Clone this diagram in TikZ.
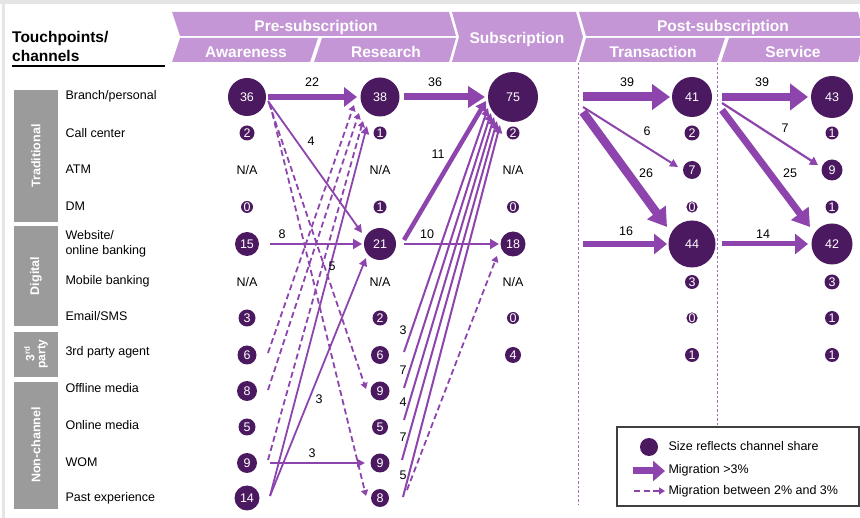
\documentclass[tikz,border=0pt]{standalone}
\usepackage{fontspec}
\setmainfont{Liberation Sans}
\usetikzlibrary{arrows.meta,calc}

\definecolor{circ}{HTML}{4B195F}
\definecolor{migc}{HTML}{8E44AD}
\definecolor{hdr}{HTML}{C496D6}
\definecolor{grpgray}{HTML}{9B9B9B}

\newcommand\numfont{\fontsize{12.5}{15}\selectfont}
\newcommand\hdrfont{\fontsize{15.5}{19}\selectfont\bfseries}

% one column of share circles: name, x, list of value/diameter (diameter 0 = N/A)
\newcommand\sharecol[3]{%
  \foreach \v/\d [count=\i] in {#3}{%
    \pgfmathsetmacro\rowy{{97,133,170,207,244,282,318,355,391,427,463,498}[\i-1]}%
    \ifnum\d=0
      \node[na] (#1\i) at (#2,\rowy) {N/A};%
    \else
      \node[share=\d] (#1\i) at (#2,\rowy) {\v};%
    \fi}}

\tikzset{
  share/.style={circle, fill=circ, text=white, inner sep=0pt, minimum size=#1pt, font=\numfont},
  na/.style={font=\numfont},
  rowlab/.style={anchor=west, font=\numfont, align=left},
  lab/.style={font=\numfont},
  grp/.style={fill=grpgray},
  grplab/.style={text=white, font=\fontsize{12.5}{13}\selectfont\bfseries, rotate=90, align=center},
  hdrtxt/.style={text=white, font=\hdrfont},
  mig/.style n args={3}{draw=migc, line width=#1pt, -{Triangle[length=#2pt,width=#3pt]}},
  migdash/.style={draw=migc, line width=1.8pt, dash pattern=on 6pt off 3.5pt, -{Triangle[length=6pt,width=7pt]}},
  stage/.style={draw=migc!80, line width=0.8pt, dash pattern=on 2.5pt off 2pt},
}

\begin{document}
\begin{tikzpicture}[x=1pt, y=-1pt]
    \useasboundingbox (0,0) rectangle (860,518);

    % frame
    \fill[black!10] (0,0) rectangle (860,4);
    \fill[black!10] (2,4) rectangle (4.5,518);

    % header bands
    \fill[hdr] (172,12) -- (449,12) -- (456,36) -- (180,36) -- cycle;
    \fill[hdr] (180,38) -- (318,38) -- (310,62) -- (172,62) -- cycle;
    \fill[hdr] (322,38) -- (456,38) -- (449,62) -- (314,62) -- cycle;
    \fill[hdr] (452,12) -- (576,12) -- (583,37) -- (576,62) -- (452,62) -- (459,37) -- cycle;
    \fill[hdr] (579,12) -- (858,12) -- (864,36) -- (586,36) -- cycle;
    \fill[hdr] (586,38) -- (725,38) -- (717,62) -- (579,62) -- cycle;
    \fill[hdr] (729,38) -- (864,38) -- (858,62) -- (721,62) -- cycle;
    \node[hdrtxt] (hpre) at (316,27) {Pre-subscription};
    \node[hdrtxt] (haw) at (246,52) {Awareness};
    \node[hdrtxt] (hre) at (386,52) {Research};
    \node[hdrtxt] (hsub) at (517,39) {Subscription};
    \node[hdrtxt] (hpost) at (723,27) {Post-subscription};
    \node[hdrtxt] (htr) at (653,52) {Transaction};
    \node[hdrtxt] (hse) at (793,52) {Service};

    \node[font=\hdrfont, align=left, anchor=west, inner sep=0pt] (htp) at (12,46) {Touchpoints/\\channels};
    \draw[line width=1.3pt] (12,66) -- (165,66);

    % channel groups
    \fill[grp] (14,90) rectangle (58,222);
    \fill[grp] (14,226) rectangle (58,326);
    \fill[grp] (14,332) rectangle (58,377);
    \fill[grp] (14,382) rectangle (58,509);
    \node[grplab] (gtrad) at (36,156) {Traditional};
    \node[grplab] (gdig) at (36,276) {Digital};
    \node[grplab, font=\fontsize{12}{11}\selectfont\bfseries] (g3rd) at (36,354) {3\textsuperscript{rd}\\party};
    \node[grplab] (gnon) at (36,445) {Non-channel};

    % channel names
    \foreach \t [count=\i] in {{Branch/personal},{Call center},{ATM},{DM},{Website/\\online banking},{Mobile banking},{Email/SMS},{3rd party agent},{Offline media},{Online media},{WOM},{Past experience}}{
        \pgfmathsetmacro\laby{{96,133,169,206,244,281,316,352,388,425,462,498}[\i-1]}
        \node[rowlab] (ch\i) at (62,\laby) {\t};
    }

    % stage separators
    \draw[stage] (578,63) -- (578,505);
    \draw[stage] (717,63) -- (717,427);

    % share circles
    \sharecol{a}{247}{36/38,2/15,-/0,0/12,15/24,-/0,3/17,6/19,8/20,5/17,9/20,14/25}
    \sharecol{r}{380}{38/39,1/13,-/0,1/13,21/32,-/0,2/15,6/18,9/19,5/16,9/19,8/18}
    \sharecol{s}{513}{75/50,2/13,-/0,0/12,18/25,-/0,0/12,4/16}
    \sharecol{t}{692}{41/40,2/15,7/18,0/11,44/47,3/14,0/11,1/14}
    \sharecol{v}{832}{43/42,1/13,9/21,1/13,42/41,3/15,1/14,1/14}

    % awareness -> research
    \draw[mig={6}{13}{19}] ($(a1)+(21,0)$) -- ($(r1)+(-23,0)$);
    \draw[mig={1.8}{8}{8}] ($(a1)+(21,4)$) -- ($(r5)+(-18,-11)$);
    \draw[mig={2.5}{9}{10}] ($(a5)+(23,0)$) -- ($(r5)+(-18,0)$);
    \draw[migdash] ($(a1)+(22,6)$) -- ($(r9)+(-14,-2)$);
    \draw[migdash] ($(a1)+(23,7)$) -- ($(r12)+(-14,-2)$);
    \draw[migdash] ($(a8)+(21,-2)$) -- ($(r1)+(-26,8)$);
    \draw[migdash] ($(a9)+(21,-1)$) -- ($(r1)+(-21,16)$);
    \draw[migdash] ($(a11)+(21,-3)$) -- ($(r1)+(-17,24)$);
    \draw[mig={1.8}{8}{8}] ($(a12)+(23,-2)$) -- ($(r1)+(-13,29)$);
    \draw[mig={1.8}{8}{8}] ($(a12)+(23,-2)$) -- ($(r5)+(-14,14)$);
    \draw[mig={1.8}{8}{8}] ($(a11)+(23,0)$) -- ($(r11)+(-15,0)$);

    % research -> subscription
    \draw[mig={7}{17}{21}] ($(r1)+(24,0)$) -- ($(s1)+(-28,0)$);
    \draw[mig={4.5}{10}{12}] ($(r5)+(24,-4)$) -- ($(s1)+(-27,4)$);
    \draw[mig={2.8}{9}{10}] ($(r5)+(24,0)$) -- ($(s5)+(-14,0)$);
    \draw[mig={2}{8}{8}] ($(r8)+(24,-3)$) -- ($(s1)+(-25,11)$);
    \draw[mig={2}{8}{8}] ($(r9)+(24,-3)$) -- ($(s1)+(-22,16)$);
    \draw[mig={2}{8}{8}] ($(r10)+(24,-7)$) -- ($(s1)+(-19,20)$);
    \draw[mig={2}{8}{8}] ($(r11)+(22,-3)$) -- ($(s1)+(-16,24)$);
    \draw[mig={2}{8}{8}] ($(r12)+(23,-1)$) -- ($(s1)+(-13,28)$);
    \draw[migdash] ($(r12)+(27,-8)$) -- ($(s5)+(-16,12)$);

    % subscription -> transaction
    \coordinate (tin1) at (583,97);
    \coordinate (tin2) at (583,107);
    \coordinate (tin3) at (583,112);
    \coordinate (tin5) at (583,244);
    \draw[mig={9}{18}{25}] (tin1) -- ($(t1)+(-22,0)$);
    \draw[mig={2}{8}{8}] (tin2) -- ($(t3)+(-14,-3)$);
    \draw[mig={8.5}{18}{22}] (tin3) -- ($(t5)+(-25,-17)$);
    \draw[mig={6.5}{13}{20}] (tin5) -- ($(t5)+(-25,0)$);

    % transaction -> service
    \coordinate (vin1) at (722,97);
    \coordinate (vin2) at (722,103);
    \coordinate (vin3) at (722,110);
    \coordinate (vin5) at (722,244);
    \draw[mig={8.5}{18}{26}] (vin1) -- ($(v1)+(-24,0)$);
    \draw[mig={2.2}{8}{9}] (vin2) -- ($(v3)+(-14,-5)$);
    \draw[mig={7}{17}{21}] (vin3) -- ($(v5)+(-22,-17)$);
    \draw[mig={5}{13}{20}] (vin5) -- ($(v5)+(-24,0)$);

    % migration values
    \foreach \t/\x/\y in {22/312/82, 4/311/141, 8/282/234, 5/332/266, 3/319/399, 3/312/453,
        36/435/82, 11/438/154, 10/427/234, 3/403/330, 7/403/370, 4/403/402, 7/403/437, 5/403/475,
        39/627/82, 6/647/131, 26/646/173, 16/626/231, 39/762/82, 7/785/128, 25/790/173, 14/763/234}
        \node[lab] at (\x,\y) {\t};

    % legend
    \draw[line width=1.2pt, black!75] (617,427) rectangle (859,506);
    \node[share=18] (lgc) at (649,447) {};
    \node[lab, anchor=west] (lgt1) at (665,446) {Size reflects channel share};
    \node[lab, anchor=west] (lgt2) at (665,470) {Migration >3\%};
    \node[lab, anchor=west] (lgt3) at (665,491) {Migration between 2\% and 3\%};
    \coordinate (lga2) at (633,471);
    \coordinate (lga3) at (634,491);
    \draw[mig={7}{12}{20}] (lga2) -- (lgt2.west |- lga2);
    \draw[migdash] (lga3) -- (lgt3.west |- lga3);

\end{tikzpicture}
\end{document}
